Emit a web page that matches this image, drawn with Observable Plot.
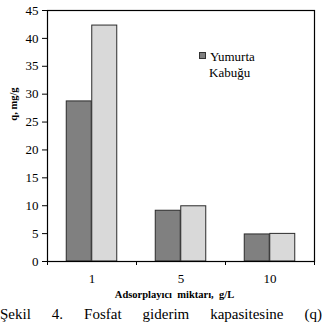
<!DOCTYPE html>
<html>
<head>
<meta charset="utf-8">
<script src="https://cdn.jsdelivr.net/npm/d3@7"></script>
<script src="https://cdn.jsdelivr.net/npm/@observablehq/plot@0.6"></script>
<style>
  html, body { margin: 0; padding: 0; background: #fff; }
  #wrap, #wrap * { font-family: 'Liberation Serif', 'Times New Roman', serif !important; }
  #wrap { position: relative; width: 322px; height: 326px; overflow: hidden; color: #000; }
  #chart { position: absolute; left: 0; top: 0; }
  .ylab { position: absolute; left: 13px; top: 104px; transform: translate(-50%, -50%) rotate(-90deg); font-weight: bold; font-size: 10.5px; white-space: nowrap; }
  .xlab { position: absolute; left: 174.5px; top: 289px; transform: translateX(-50%); font-weight: bold; font-size: 10.5px; white-space: pre; }
  .legend { position: absolute; left: 199px; top: 49px; font-size: 13px; line-height: 16px; }
  .legend .sw { position: absolute; left: 0; top: 3px; width: 5px; height: 5px; background: #808080; border: 0.8px solid #333; }
  .legend .txt { position: absolute; left: 11px; top: 0; white-space: nowrap; }
  .legend .txt2 { position: absolute; left: 10px; top: 16px; white-space: nowrap; }
  .caption { position: absolute; left: 0; top: 306px; width: 322px; font-size: 15px; text-align: justify; text-align-last: justify; white-space: normal; }
</style>
</head>
<body>
<div id="wrap">
  <div id="chart"></div>
  <div class="ylab">q, mg/g</div>
  <div class="xlab">Adsorplayıcı  miktarı,  g/L</div>
  <div class="legend"><div class="sw"></div><div class="txt">Yumurta</div><div class="txt2">Kabuğu</div></div>
  <div class="caption">Şekil 4. Fosfat giderim kapasitesine (q)</div>
</div>
<script>
const categories = ["1", "5", "10"];
const seriesNames = ["Yumurta Kabuğu", "Seri 2"];
const yumurtaKabugu = [28.7, 9.1, 4.85];
const seri2 = [42.3, 9.9, 4.95];
const yTicks = [0, 5, 10, 15, 20, 25, 30, 35, 40, 45];

const darkData = categories.map((c, i) => ({cat: c, q: yumurtaKabugu[i], s: seriesNames[0]}));
const lightData = categories.map((c, i) => ({cat: c, q: seri2[i], s: seriesNames[1]}));

const W = 322, H = 290, mL = 47, mR = 8, mT = 10, mB = 29;
const step = (W - mL - mR) / categories.length;
const bw = 25.5;
const pInner = 1 - bw / step;

const chart = Plot.plot({
  width: W,
  height: H,
  marginLeft: mL,
  marginRight: mR,
  marginTop: mT,
  marginBottom: mB,
  style: {fontFamily: "'Liberation Serif', 'Times New Roman', serif", fontSize: "13px", color: "#000", background: "#fff", overflow: "visible"},
  x: {domain: categories, paddingInner: pInner, paddingOuter: pInner / 2, tickSize: 0, tickPadding: 12, label: null},
  y: {domain: [0, 45], ticks: yTicks, tickSize: 5, tickPadding: 4, label: null},
  marks: [
    Plot.barY(darkData, {x: "cat", y: "q", fill: "#808080", stroke: "#2b2b2b", strokeWidth: 1, dx: -bw / 2}),
    Plot.barY(lightData, {x: "cat", y: "q", fill: "#d9d9d9", stroke: "#2b2b2b", strokeWidth: 1, dx: bw / 2}),
    Plot.ruleX(categories, {x: d => d, y1: 0, y2: 0, insetBottom: -4, dx: -step / 2, stroke: "#000"}),
    Plot.ruleX(categories.slice(-1), {x: d => d, y1: 0, y2: 0, insetBottom: -4, dx: step / 2, stroke: "#000"}),
    Plot.frame({stroke: "#000", strokeWidth: 1.2})
  ]
});
document.getElementById("chart").appendChild(chart);
</script>
</body>
</html>
